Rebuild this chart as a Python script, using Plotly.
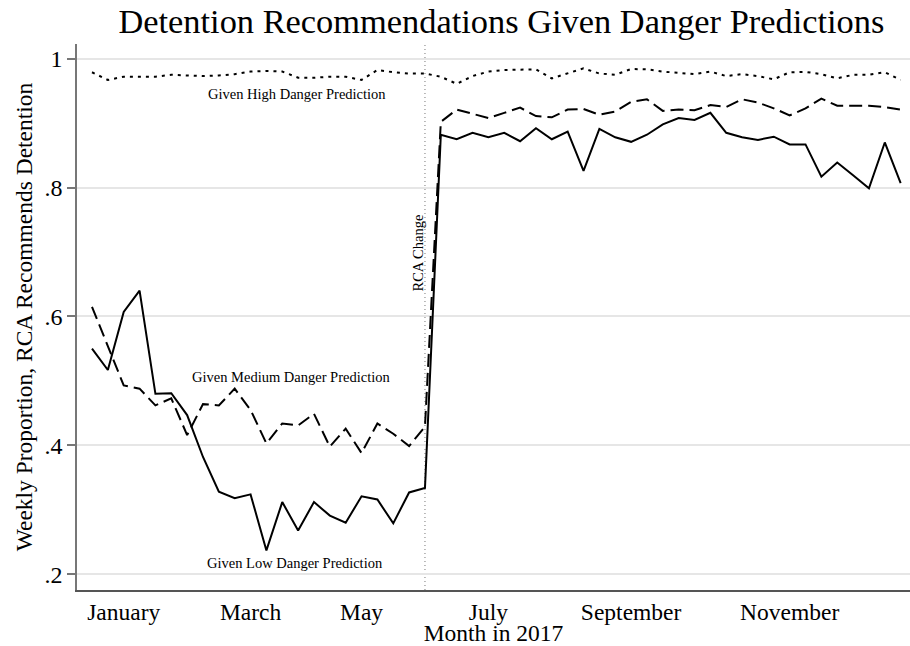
import plotly.graph_objects as go

weeks = list(range(1, 53))

low_danger = [0.550, 0.517, 0.607, 0.640, 0.480, 0.481, 0.447, 0.382, 0.328, 0.318, 0.324,
              0.237, 0.312, 0.268, 0.312, 0.291, 0.280, 0.321, 0.316, 0.279, 0.327, 0.334,
              0.882, 0.875, 0.885, 0.878, 0.885, 0.872, 0.892, 0.875, 0.887, 0.826, 0.891,
              0.878, 0.871, 0.882, 0.898, 0.908, 0.905, 0.916, 0.885, 0.878, 0.874, 0.879,
              0.867, 0.867, 0.817, 0.839, 0.819, 0.799, 0.870, 0.807]

medium_danger = [0.615, 0.553, 0.493, 0.488, 0.462, 0.473, 0.416, 0.464, 0.462, 0.488, 0.455,
                 0.403, 0.434, 0.431, 0.449, 0.398, 0.426, 0.388, 0.434, 0.418, 0.399, 0.429,
                 0.902, 0.921, 0.914, 0.908, 0.916, 0.924, 0.911, 0.909, 0.921, 0.922, 0.913,
                 0.918, 0.933, 0.937, 0.919, 0.921, 0.920, 0.928, 0.925, 0.937, 0.932, 0.923,
                 0.912, 0.923, 0.938, 0.927, 0.927, 0.927, 0.925, 0.921]

high_danger = [0.979, 0.967, 0.972, 0.972, 0.972, 0.975, 0.974, 0.973, 0.974, 0.976, 0.980,
               0.981, 0.980, 0.9705, 0.9705, 0.972, 0.972, 0.967, 0.9825, 0.979, 0.977, 0.977,
               0.972, 0.961, 0.973, 0.980, 0.9825, 0.9825, 0.9835, 0.9695, 0.977, 0.985, 0.977,
               0.975, 0.984, 0.9835, 0.980, 0.978, 0.976, 0.980, 0.973, 0.976, 0.973, 0.968,
               0.979, 0.9795, 0.976, 0.9695, 0.975, 0.975, 0.979, 0.967]

month_ticks = [3, 11, 18, 26, 35, 45]
month_labels = ["January", "March", "May", "July", "September", "November"]

y_ticks = [0.2, 0.4, 0.6, 0.8, 1.0]
y_labels = [".2", ".4", ".6", ".8", "1"]

change_week = 22

FONT = "Liberation Serif, Times New Roman, serif"

fig = go.Figure()
fig.add_trace(go.Scatter(x=weeks, y=high_danger, mode="lines",
                         line=dict(color="black", width=2, dash="3px,5px"),
                         name="High", showlegend=False))
fig.add_trace(go.Scatter(x=weeks, y=medium_danger, mode="lines",
                         line=dict(color="black", width=2, dash="13px,6px"),
                         name="Medium", showlegend=False))
fig.add_trace(go.Scatter(x=weeks, y=low_danger, mode="lines",
                         line=dict(color="black", width=2),
                         name="Low", showlegend=False))

fig.add_vline(x=change_week, line=dict(color="#777777", width=1, dash="1px,3px"), layer="below")

ann_font = dict(family=FONT, size=14.5, color="black")
fig.add_annotation(x=13.9, y=0.945, text="Given High Danger Prediction",
                   showarrow=False, font=ann_font)
fig.add_annotation(x=13.58, y=0.506, text="Given Medium Danger Prediction",
                   showarrow=False, font=ann_font)
fig.add_annotation(x=13.83, y=0.217, text="Given Low Danger Prediction",
                   showarrow=False, font=ann_font)
fig.add_annotation(x=21.55, y=0.699, text="RCA Change", textangle=-90,
                   showarrow=False, font=ann_font)

fig.update_layout(
    width=910, height=646,
    margin=dict(l=77, r=0, t=44, b=56, autoexpand=False),
    paper_bgcolor="white", plot_bgcolor="white",
    font=dict(family=FONT, color="black"),
    title=dict(text="Detention Recommendations Given Danger Predictions",
               x=0.551, xanchor="center", y=0.9675, yanchor="middle",
               font=dict(family=FONT, size=34.4, color="black")),
    xaxis=dict(range=[0.054, 52.59], tickvals=month_ticks, ticktext=month_labels,
               showgrid=False, zeroline=False, showline=True, linecolor="#555555",
               linewidth=1.5, ticks="", tickfont=dict(family=FONT, size=23.5),
               automargin=False,
               title=dict(text="Month in 2017", font=dict(family=FONT, size=23.5), standoff=3)),
    yaxis=dict(range=[0.1756, 1.0228], tickvals=y_ticks, ticktext=y_labels,
               showgrid=True, gridcolor="#e6e6e6", gridwidth=2, zeroline=False,
               showline=True, linecolor="#777777", linewidth=1.5,
               ticks="outside", ticklen=8, tickcolor="#777777", tickwidth=1.5,
               tickfont=dict(family=FONT, size=24), automargin=False,
               title=dict(text="Weekly Proportion, RCA Recommends Detention",
                          font=dict(family=FONT, size=23.5), standoff=5)),
)

# remove the browser's default 8px body margin so the figure fills the window
fig.write_html("out.html", config={"displayModeBar": False},
               post_script="document.body.style.margin='0';")
